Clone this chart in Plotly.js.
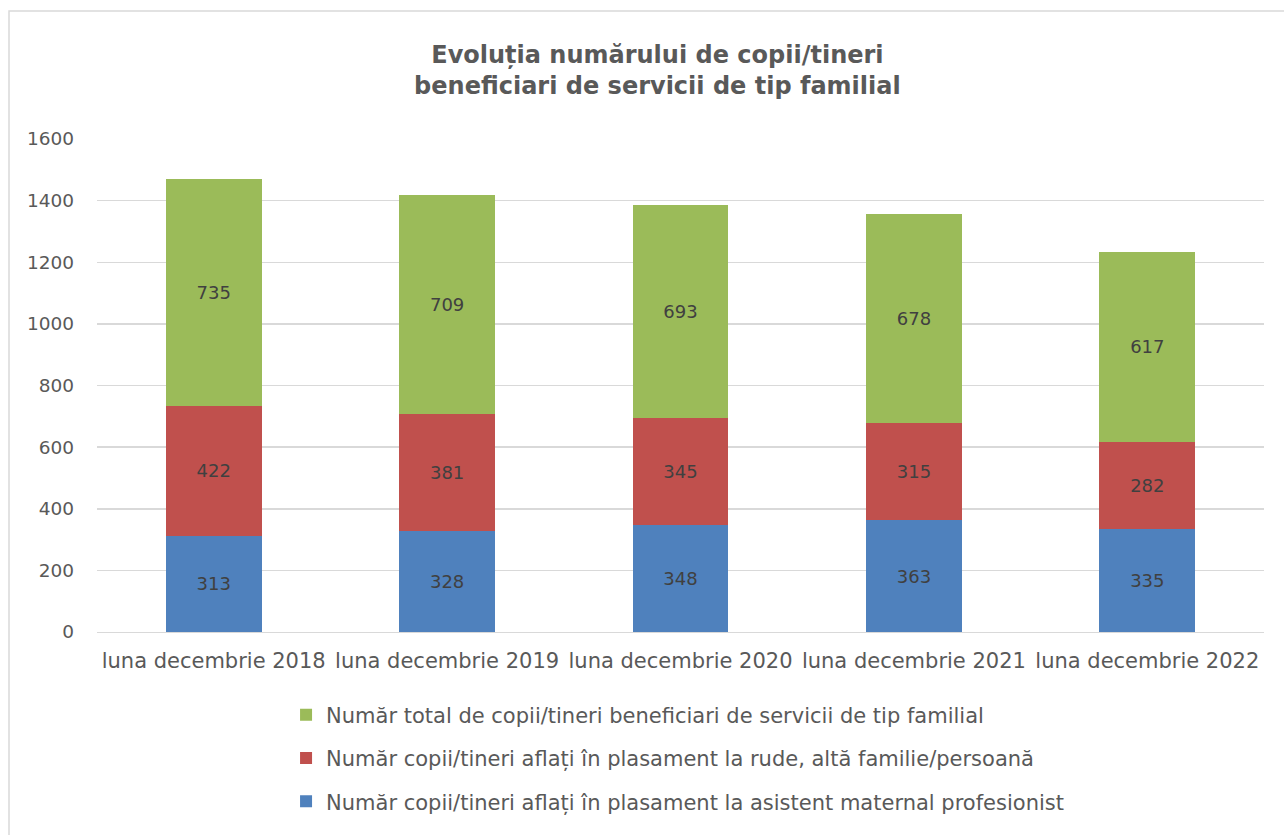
<!DOCTYPE html>
<html>
<head>
<meta charset="utf-8">
<script src="https://cdn.plot.ly/plotly-3.0.1.min.js"></script>
<style>html,body{margin:0;padding:0;background:#fff;}#chart{width:1284px;height:835px;}</style>
</head>
<body>
<div id="chart"></div>
<script>
const categories = ["luna decembrie 2018", "luna decembrie 2019", "luna decembrie 2020", "luna decembrie 2021", "luna decembrie 2022"];
const asistentMaternal = [313, 328, 348, 363, 335];
const rudeFamilie = [422, 381, 345, 315, 282];
const totalBeneficiari = [735, 709, 693, 678, 617];
const seriesNames = [
  "Număr copii/tineri aflați în plasament la asistent maternal profesionist",
  "Număr copii/tineri aflați în plasament la rude, altă familie/persoană",
  "Număr total de copii/tineri beneficiari de servicii de tip familial"
];
const yTicks = [0, 200, 400, 600, 800, 1000, 1200, 1400, 1600];

const FONT = "DejaVu Sans, sans-serif";
function bar(vals, name, color, grp, rank) {
  return {
    type: "bar", x: categories, y: vals, name: name, legendgroup: grp, legendrank: rank,
    marker: {color: color, line: {width: 0}},
    text: vals.map(String), textposition: "inside", insidetextanchor: "middle",
    textfont: {family: FONT, size: 18, color: "#404040"},
    hoverinfo: "y+name"
  };
}
const data = [
  bar(asistentMaternal, seriesNames[0], "#4f81bd", "a", 3),
  bar(rudeFamilie, seriesNames[1], "#c0504d", "b", 2),
  bar(totalBeneficiari, seriesNames[2], "#9bbb59", "c", 1)
];
const layout = {
  width: 1284, height: 835,
  margin: {l: 97, r: 20, t: 139, b: 203},
  paper_bgcolor: "#fff", plot_bgcolor: "#fff",
  barmode: "stack", bargap: 0.59,
  font: {family: FONT, color: "#595959"},
  title: {
    text: "<b>Evoluția numărului de copii/tineri<br>beneficiari de servicii de tip familial</b>",
    font: {family: FONT, size: 24, color: "#595959"},
    x: 0.512, xanchor: "center", y: 0.925, yanchor: "middle", yref: "container"
  },
  xaxis: {
    showgrid: false, showline: true, linecolor: "#d9d9d9", linewidth: 1,
    tickfont: {family: FONT, size: 21, color: "#595959"},
    ticks: "", ticklabelstandoff: 10, fixedrange: true
  },
  yaxis: {
    range: [0, 1600], tickvals: yTicks, ticktext: yTicks.map(String),
    showgrid: true, gridcolor: "#d9d9d9", gridwidth: 1.5,
    zeroline: false, showline: false,
    tickfont: {family: FONT, size: 18.5, color: "#595959"},
    ticks: "", ticklabelstandoff: 22, fixedrange: true
  },
  showlegend: true,
  legend: {
    orientation: "v", traceorder: "grouped", tracegroupgap: 13,
    x: 0.162, xanchor: "left", y: -0.127, yanchor: "top",
    font: {family: FONT, size: 21, color: "#595959"},
    bgcolor: "rgba(0,0,0,0)"
  },
  shapes: [{
    type: "rect", xref: "paper", yref: "paper",
    x0: -0.0754, x1: 1.05, y0: -0.5, y1: 1.2596,
    line: {color: "#d9d9d9", width: 1.5}, fillcolor: "rgba(0,0,0,0)", layer: "below"
  }]
};
Plotly.newPlot("chart", data, layout, {displayModeBar: false, staticPlot: true});
</script>
</body>
</html>
